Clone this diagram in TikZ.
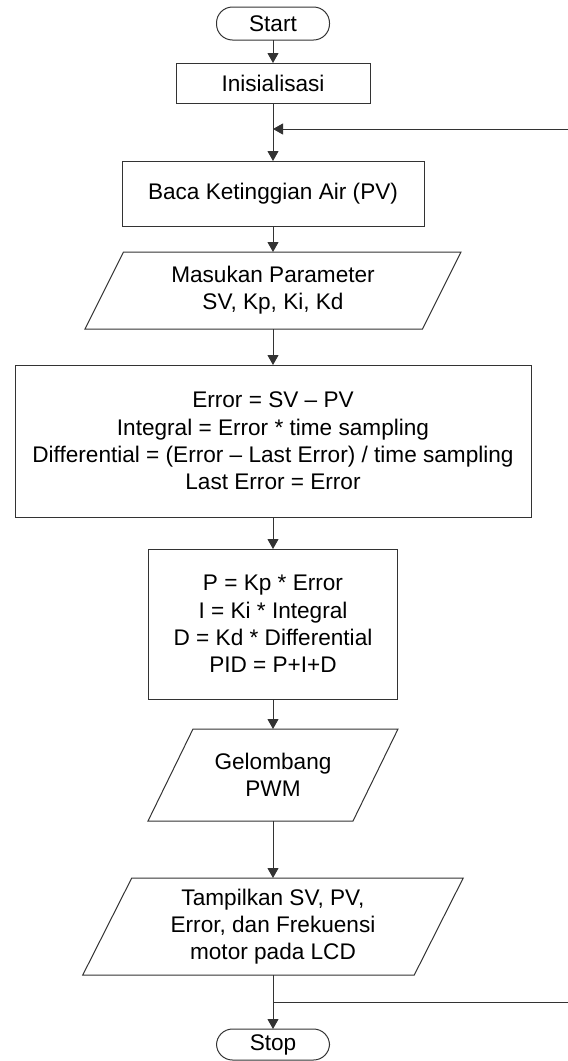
\documentclass[tikz,border=0pt]{standalone}
\usepackage{fontspec}
\setmainfont{Liberation Sans}
\usetikzlibrary{arrows.meta}
\tikzset{
  ln/.style={draw=black!80, line width=0.5pt},
  arr/.style={ln, -{Triangle[length=5pt,width=5.5pt]}},
  txt/.style={inner sep=0pt, outer sep=0pt, align=center, text=black,
    font=\fontsize{11.3}{13.65}\selectfont},
  procbox/.style={txt, ln, rectangle},
  termbox/.style={txt, ln, rectangle, rounded corners=8pt},
  iobox/.style={txt}
}
\begin{document}
\begin{tikzpicture}[x=0.5pt,y=-0.5pt]
\useasboundingbox (0,0) rectangle (568,1061);
\clip (0,0) rectangle (568,1061);
% nodes
\node[termbox, minimum width=56.5pt, minimum height=16.5pt] (start) at (273,23.5) {Start};
\node[procbox, minimum width=97pt, minimum height=20pt] (ini) at (273,83) {Inisialisasi};
\node[procbox, minimum width=151pt, minimum height=32.5pt] (baca) at (273,193.5) {Baca Ketinggian Air (PV)};
\node[iobox, minimum width=168.75pt, minimum height=38.5pt] (mas) at (273,290.5) {Masukan Parameter\\SV, Kp, Ki, Kd};
\draw[ln] ([xshift=9.6pt]mas.north west) -- ([xshift=9.6pt]mas.north east)
  -- ([xshift=-9.6pt]mas.south east) -- ([xshift=-9.6pt]mas.south west) -- cycle;
\node[procbox, minimum width=258pt, minimum height=76pt] (err) at (273,441)
  {Error = SV – PV\\Integral = Error * time sampling\\Differential = (Error – Last Error) / time sampling\\Last Error = Error};
\node[procbox, minimum width=124.5pt, minimum height=75pt] (pid) at (273,624)
  {P = Kp * Error\\I = Ki * Integral\\D = Kd * Differential\\PID = P+I+D};
\node[iobox, minimum width=102.5pt, minimum height=46pt] (pwm) at (273,775) {Gelombang\\PWM};
\draw[ln] ([xshift=11.25pt]pwm.north west) -- ([xshift=11.25pt]pwm.north east)
  -- ([xshift=-11.25pt]pwm.south east) -- ([xshift=-11.25pt]pwm.south west) -- cycle;
\node[iobox, minimum width=165.75pt, minimum height=48.5pt] (tamp) at (273,926.5) {Tampilkan SV, PV,\\Error, dan Frekuensi\\motor pada LCD};
\draw[ln] ([xshift=12.25pt]tamp.north west) -- ([xshift=12.25pt]tamp.north east)
  -- ([xshift=-12.25pt]tamp.south east) -- ([xshift=-12.25pt]tamp.south west) -- cycle;
\node[termbox, minimum width=56.5pt, minimum height=15.5pt] (stop) at (273,1044.5) {Stop};
% loop coordinates
\coordinate (j1) at (273,1002);
\coordinate (r1) at (574,1002);
\coordinate (r2) at (574,129);
\coordinate (j2) at (273,129);
% connectors
\draw[arr] (start) -- (ini);
\draw[arr] (ini) -- (baca);
\draw[arr] (baca) -- (mas);
\draw[arr] (mas) -- (err);
\draw[arr] (err) -- (pid);
\draw[arr] (pid) -- (pwm);
\draw[arr] (pwm) -- (tamp);
\draw[arr] (tamp) -- (stop);
\draw[arr] (j1) -- (r1) -- (r2) -- (j2);
\end{tikzpicture}
\end{document}
